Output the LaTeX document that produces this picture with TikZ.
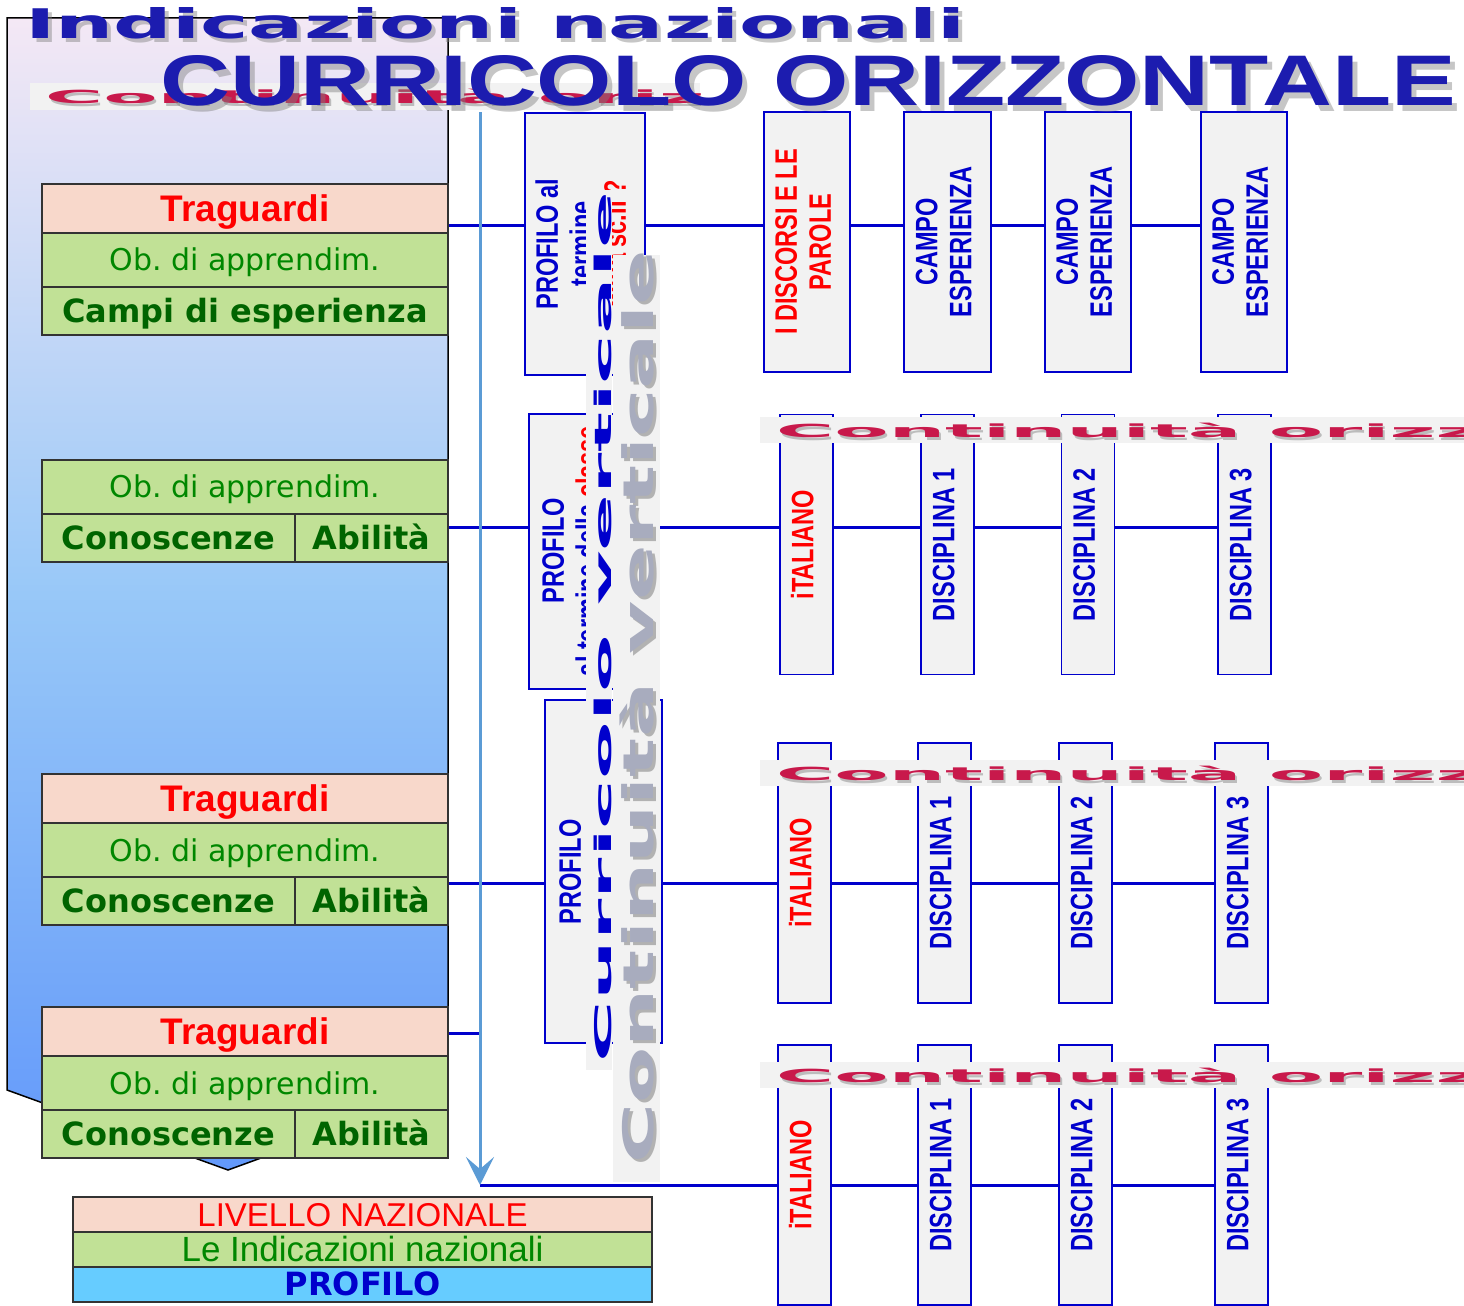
\documentclass[tikz,border=0pt]{standalone}
\usepackage{fontspec}
\setmainfont{Liberation Sans}
\newfontfamily\dejavu{DejaVu Sans}
\usepackage{graphicx}
\usetikzlibrary{arrows.meta}

\definecolor{salmon}{RGB}{248,216,203}
\definecolor{leaf}{RGB}{193,225,150}
\definecolor{darkleaf}{RGB}{0,100,0}
\definecolor{midleaf}{RGB}{0,135,0}
\definecolor{sky}{RGB}{102,204,255}
\definecolor{navy}{RGB}{0,0,204}
\definecolor{paleg}{RGB}{242,242,242}
\definecolor{flowblue}{RGB}{91,155,213}
\definecolor{titleblue}{RGB}{28,28,175}
\definecolor{conred}{RGB}{200,25,75}
\definecolor{silver}{RGB}{168,172,190}

\newcommand{\vlab}[1]{\rotatebox{90}{\scalebox{0.76}[1]{\begin{tabular}{@{}c@{}}#1\end{tabular}}}}
\newcommand{\conttext}{\scalebox{4.4}[1]{\dejavu\bfseries\fontsize{18}{18}\selectfont Continuità orizzontale}}

\tikzset{   lcell/.style = {draw=black!80, line width=2pt, rectangle, inner sep=0pt, minimum width=406pt},
            trag/.style = {lcell, fill=salmon, text=red, minimum height=49pt, text height=26pt, text depth=0pt, font=\bfseries\fontsize{37}{42}\selectfont},
            obiet/.style = {lcell, fill=leaf, text=midleaf, minimum height=54pt, text height=22pt, text depth=0pt, font=\dejavu\fontsize{30}{34}\selectfont},
            campi/.style = {lcell, fill=leaf, text=darkleaf, minimum height=48pt, text height=23pt, text depth=0pt, font=\dejavu\bfseries\fontsize{32}{36}\selectfont},
            legrow/.style = {lcell, minimum width=579pt, minimum height=35pt, text depth=0pt},
            colbox/.style = {draw=navy, fill=paleg, line width=1.6pt, rectangle, inner sep=0pt, minimum width=53pt, minimum height=260pt, text=navy, font=\bfseries\fontsize{31}{34}\selectfont},
            proflab/.style = {inner sep=0pt, text=navy, font=\bfseries\fontsize{31}{34}\selectfont},
            link/.style = {draw=navy, line width=3pt},
            flow/.style = {draw=flowblue, line width=3pt, -{Stealth[length=28pt, width=28pt, inset=12pt]}},
            bandbg/.style = {fill=paleg, inner sep=0pt, rectangle},
            contband/.style = {bandbg, minimum height=26pt, path picture={
                \node[anchor=west, inner sep=0pt, text=black!40, opacity=.6] at ([xshift=#1+2pt, yshift=-3pt]path picture bounding box.west) {\conttext};
                \node[anchor=west, inner sep=0pt, text=conred] at ([xshift=#1]path picture bounding box.west) {\conttext};}},
            ttl/.style = {anchor=north west, inner sep=0pt}}

\begin{document}
\begin{tikzpicture}[x=1pt, y=-1pt]
    \useasboundingbox (0,0) rectangle (1464,1306);

    \path[draw=black, line width=1.5pt, top color={rgb,255:red,244;green,232;blue,245}, bottom color={rgb,255:red,98;green,152;blue,250}, middle color={rgb,255:red,152;green,200;blue,248}]
        (7,18) -- (448,18) -- (448,1090) -- (228,1170) -- (7,1090) -- cycle;

    \coordinate (vtop) at (480,112);
    \coordinate (vbot) at (480,1185);
    \coordinate (r1) at (448,225);
    \coordinate (r2) at (448,527);
    \coordinate (r3) at (448,883);
    \coordinate (r4) at (448,1033);

    \node[colbox, minimum width=120pt, minimum height=262pt](prof1)at(585,244){\vlab{PROFILO al\\termine\\\textcolor{red}{della sc.II ?}}};
    \node[colbox, text=red, minimum width=86pt](disc1)at(807,242){\vlab{I DISCORSI E LE\\PAROLE}};
    \node[colbox, minimum width=87pt](campoA)at(947.5,242){\vlab{CAMPO\\ESPERIENZA}};
    \node[colbox, minimum width=86pt](campoB)at(1088,242){\vlab{CAMPO\\ESPERIENZA}};
    \node[colbox, minimum width=86pt](campoC)at(1244,242){\vlab{CAMPO\\ESPERIENZA}};

    \node[colbox, minimum width=118pt, minimum height=275pt](prof2)at(588,551.5){};
    \node[proflab](prof2lab)at(574,551){\vlab{PROFILO\\al termine della \textcolor{red}{classe}}};
    \node[colbox, text=red](ital2)at(806.5,544.5){\vlab{iTALIANO}};
    \node[colbox](dis21)at(947.5,544.5){\vlab{DISCIPLINA 1}};
    \node[colbox](dis22)at(1088,544.5){\vlab{DISCIPLINA 2}};
    \node[colbox](dis23)at(1244.5,544.5){\vlab{DISCIPLINA 3}};

    \node[colbox, minimum width=117pt, minimum height=343pt](prof3)at(603.5,871.5){};
    \node[proflab](prof3lab)at(574,872){\vlab{PROFILO}};
    \node[colbox, text=red](ital3)at(804.5,873){\vlab{iTALIANO}};
    \node[colbox](dis31)at(944.5,873){\vlab{DISCIPLINA 1}};
    \node[colbox](dis32)at(1085.5,873){\vlab{DISCIPLINA 2}};
    \node[colbox](dis33)at(1241.5,873){\vlab{DISCIPLINA 3}};

    \node[colbox, text=red](ital4)at(804.5,1175){\vlab{iTALIANO}};
    \node[colbox](dis41)at(944.5,1175){\vlab{DISCIPLINA 1}};
    \node[colbox](dis42)at(1085.5,1175){\vlab{DISCIPLINA 2}};
    \node[colbox](dis43)at(1241.5,1175){\vlab{DISCIPLINA 3}};

    \draw[link](r1)--(prof1.west |- r1);
    \draw[link](r2)--(prof2.west |- r2);
    \draw[link](r3)--(prof3.west |- r3);
    \draw[link](r4)--(vtop |- r4);
    \draw[link](vbot)--(ital4.west |- vbot);
    \foreach \a/\b in {prof1/disc1, disc1/campoA, campoA/campoB, campoB/campoC}
        \draw[link](\a.east |- r1)--(\b.west |- r1);
    \foreach \a/\b in {prof2/ital2, ital2/dis21, dis21/dis22, dis22/dis23}
        \draw[link](\a.east |- r2)--(\b.west |- r2);
    \foreach \a/\b in {prof3/ital3, ital3/dis31, dis31/dis32, dis32/dis33}
        \draw[link](\a.east |- r3)--(\b.west |- r3);
    \foreach \a/\b in {ital4/dis41, dis41/dis42, dis42/dis43}
        \draw[link](\a.east |- vbot)--(\b.west |- vbot);
    \draw[flow](vtop)--(vbot);

    \node[trag](trag1)at(245,208){Traguardi};
    \node[obiet](ob1)at(245,259.5){Ob.\ di apprendim.};
    \node[campi](campi1)at(245,311){Campi di esperienza};

    \node[obiet](ob2)at(245,486.5){Ob.\ di apprendim.};
    \node[campi, minimum width=253pt](con2)at(168.5,537.5){Conoscenze};
    \node[campi, minimum width=153pt](abi2)at(371.5,537.5){Abilità};

    \node[trag](trag3)at(245,798){Traguardi};
    \node[obiet](ob3)at(245,850){Ob.\ di apprendim.};
    \node[campi, minimum width=253pt](con3)at(168.5,901){Conoscenze};
    \node[campi, minimum width=153pt](abi3)at(371.5,901){Abilità};

    \node[trag](trag4)at(245,1031.5){Traguardi};
    \node[obiet](ob4)at(245,1083){Ob.\ di apprendim.};
    \node[campi, minimum width=253pt](con4)at(168.5,1134){Conoscenze};
    \node[campi, minimum width=153pt](abi4)at(371.5,1134){Abilità};

    \node[legrow, fill=salmon, text=red, text height=24pt, font=\fontsize{33}{36}\selectfont](livello)at(362.5,1214){LIVELLO NAZIONALE};
    \node[legrow, fill=leaf, text=midleaf, text height=25pt, font=\fontsize{35}{38}\selectfont](indic)at(362.5,1249){Le Indicazioni nazionali};
    \node[legrow, fill=sky, text=navy, text height=23pt, font=\dejavu\bfseries\fontsize{32}{36}\selectfont](profilo)at(362.5,1284){PROFILO};

    \node[bandbg, minimum width=26pt, minimum height=880pt](stripA)at(599,630){};
    \node[bandbg, minimum width=47pt, minimum height=927pt](stripB)at(636.5,718.5){};
    \node[inner sep=0pt, text=navy, font=\dejavu\bfseries\fontsize{23}{23}\selectfont](curvert)at(603,627){\rotatebox{90}{\scalebox{3.65}[1]{Curricolo verticale}}};
    \node[inner sep=0pt, text=black!55, opacity=.5, font=\dejavu\bfseries\fontsize{42}{42}\selectfont](contvsh)at(640,710){\rotatebox{90}{\scalebox{1.95}[1]{Continuità verticale}}};
    \node[inner sep=0pt, text=silver, font=\dejavu\bfseries\fontsize{42}{42}\selectfont](contvert)at(637,707){\rotatebox{90}{\scalebox{1.95}[1]{Continuità verticale}}};

    \node[contband=16pt, minimum width=704pt](contR1)at(1112,430){};
    \node[contband=16pt, minimum width=704pt](contR2)at(1112,773){};
    \node[contband=16pt, minimum width=704pt](contR3)at(1112,1075){};
    \node[contband=15pt, minimum width=670pt, minimum height=27pt](contTop)at(365,96.5){};

    \node[ttl, text=black!50, opacity=.45](indsh)at(29,11){\resizebox{940pt}{31pt}{\dejavu\bfseries Indicazioni nazionali}};
    \node[ttl, text=titleblue](indicaz)at(25,7){\resizebox{940pt}{31pt}{\dejavu\bfseries Indicazioni nazionali}};
    \node[ttl, text=black!50, opacity=.45](cursh)at(165,61){\resizebox{1295pt}{50pt}{\bfseries CURRICOLO ORIZZONTALE}};
    \node[ttl, text=titleblue](curric)at(160,55){\resizebox{1295pt}{50pt}{\bfseries CURRICOLO ORIZZONTALE}};
\end{tikzpicture}
\end{document}
